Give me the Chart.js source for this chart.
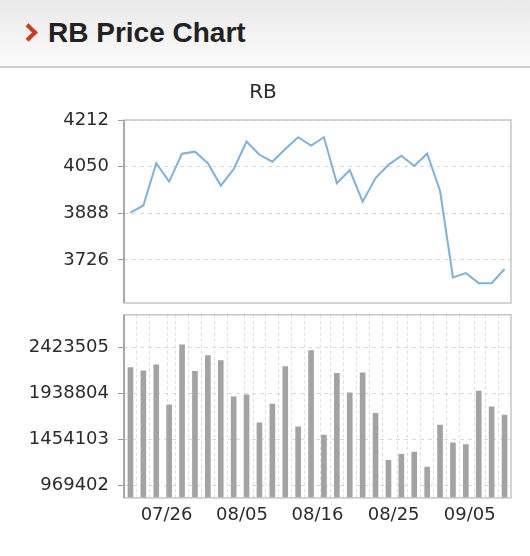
<!DOCTYPE html>
<html>
<head>
<meta charset="utf-8">
<script src="https://cdn.jsdelivr.net/npm/chart.js@4.4.1/dist/chart.umd.min.js"></script>
<style>
  html, body { margin: 0; padding: 0; background: #fff; }
  body { width: 530px; height: 556px; position: relative; overflow: hidden; font-family: "Liberation Sans", Arial, sans-serif; }
  .head { position: absolute; left: 0; top: 0; width: 530px; height: 66px; background: linear-gradient(#e9e9e9, #fbfbfb); border-bottom: 2px solid #cdcdcd; }
  .head h1 { margin: 0; position: absolute; left: 48px; top: 16px; font-size: 28px; line-height: 34px; font-weight: bold; color: #222; }
  .chev { position: absolute; left: 22px; top: 26px; width: 9px; height: 9px; border-top: 4px solid #d2391c; border-right: 4px solid #d2391c; transform: rotate(45deg); }
  canvas { position: absolute; left: 0; }
</style>
</head>
<body>
<div class="head"><span class="chev"></span><h1>RB Price Chart</h1></div>
<canvas id="volume" width="530" height="261" style="top:295px"></canvas>
<canvas id="price" width="530" height="266" style="top:70px"></canvas>
<script>
// daily closing price, one value per trading day
const priceValues = [3890, 3915, 4062, 3998, 4095, 4102, 4062, 3984, 4041, 4137,
                     4091, 4067, 4111, 4152, 4123, 4152, 3992, 4038, 3928, 4010,
                     4056, 4088, 4052, 4095, 3966, 3665, 3680, 3645, 3645, 3694]
// daily volume
const volumeValues = [2211000, 2179000, 2240000, 1820000, 2451000, 2173000, 2338000, 2285000, 1905000, 1926000,
                      1630000, 1828000, 2222000, 1588000, 2391000, 1501000, 2152000, 1947000, 2158000, 1730000,
                      1237000, 1300000, 1324000, 1166000, 1606000, 1419000, 1402000, 1965000, 1799000, 1712000]

const priceTicks = [3726, 3888, 4050, 4212]
const volumeTicks = [969402, 1454103, 1938804, 2423505]
const dateLabels = ['07/26', '08/05', '08/16', '08/25', '09/05']
// where each date label sits, in trading-day index units
const dateTickAt = [2.8, 8.65, 14.5, 20.4, 26.3]

Chart.defaults.font.family = 'DejaVu Sans'
Chart.defaults.animation = false

const frame = {
  id: 'frame',
  afterDatasetsDraw(chart) {
    const { ctx, chartArea: a } = chart
    ctx.save()
    ctx.lineWidth = 1.5
    ctx.strokeStyle = '#c6c6c6'
    ctx.strokeRect(a.left, a.top, a.right - a.left, a.bottom - a.top)
    ctx.strokeStyle = '#9a9a9a'
    ctx.beginPath()
    ctx.moveTo(a.left, a.top)
    ctx.lineTo(a.left, a.bottom)
    ctx.stroke()
    ctx.restore()
  }
}

function yAxis(min, max, ticks) {
  return {
    min: min,
    max: max,
    afterBuildTicks: s => { s.ticks = ticks.map(v => ({ value: v })) },
    afterFit: s => { s.width = 124 },
    border: { display: false, dash: [4, 4] },
    grid: { color: '#d9d9d9', tickColor: '#9a9a9a', tickLength: 6 },
    ticks: { padding: 9, color: '#2b2b2b', font: { size: 18 }, callback: v => String(v) }
  }
}

const xs = priceValues.map((v, i) => i)

new Chart(document.getElementById('price'), {
  type: 'line',
  data: {
    datasets: [{
      data: priceValues.map((v, i) => ({ x: xs[i], y: v })),
      borderColor: '#7db2dc',
      borderWidth: 2,
      pointRadius: 0,
      tension: 0
    }]
  },
  options: {
    responsive: false,
    layout: { padding: { left: 0, right: 4, top: 0, bottom: 33 } },
    plugins: {
      legend: { display: false },
      tooltip: { enabled: false },
      title: {
        display: true,
        text: 'RB',
        color: '#2b2b2b',
        font: { size: 20, weight: 'normal' },
        padding: { top: 11, bottom: 15 }
      }
    },
    scales: {
      x: { type: 'linear', min: -0.5, max: 29.5, display: false },
      y: yAxis(3576, 4212, priceTicks),
      yr: {
        position: 'right', min: 0, max: 1,
        afterFit: s => { s.width = 15 },
        ticks: { display: false },
        grid: { display: false },
        border: { display: false }
      }
    }
  },
  plugins: [frame]
})

new Chart(document.getElementById('volume'), {
  type: 'bar',
  data: {
    datasets: [{
      data: volumeValues.map((v, i) => ({ x: xs[i], y: v })),
      backgroundColor: '#a3a3a3',
      borderWidth: 0,
      barThickness: 5
    }]
  },
  options: {
    responsive: false,
    layout: { padding: { left: 0, right: 19, top: 0, bottom: 22.5 } },
    plugins: { legend: { display: false }, tooltip: { enabled: false } },
    scales: {
      x: {
        type: 'linear', min: -0.5, max: 29.5, offset: false,
        afterBuildTicks: s => {
          const t = xs.map(v => ({ value: v }))
          dateTickAt.forEach(v => t.push({ value: v }))
          t.sort((a, b) => a.value - b.value)
          s.ticks = t
        },
        border: { display: false, dash: [3, 3] },
        grid: {
          drawTicks: false,
          color: c => (c.tick && Number.isInteger(c.tick.value)) ? '#dcdcdc' : 'rgba(0,0,0,0)'
        },
        ticks: {
          autoSkip: false, maxRotation: 0, padding: 7, color: '#2b2b2b', font: { size: 18 },
          callback: v => {
            const k = dateTickAt.indexOf(v)
            return k < 0 ? '' : dateLabels[k]
          }
        }
      },
      y: yAxis(840600, 2767800, volumeTicks)
    }
  },
  plugins: [frame]
})
</script>
</body>
</html>
